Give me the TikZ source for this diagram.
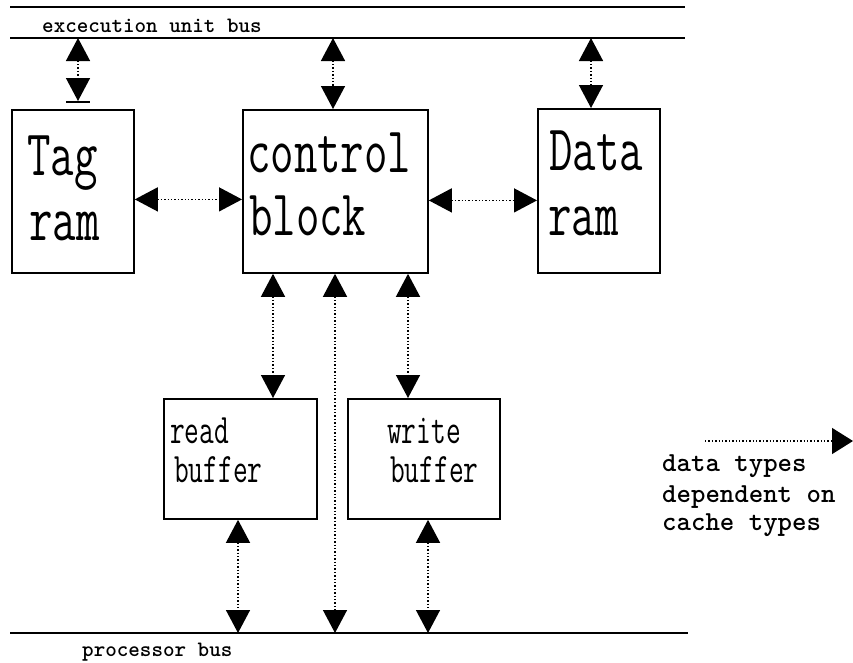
\documentclass[tikz,border=0pt]{standalone}
\usepackage{fontspec}
\usetikzlibrary{arrows.meta}
% condensed typewriter lettering for the unit boxes
\newcommand\narrow[2]{\scalebox{#1}[1]{#2}}
\begin{document}
\begin{tikzpicture}[x=1pt,y=-1pt,
  unit/.style={draw, line width=1.8pt, inner sep=0pt, anchor=north west},
  bigtext/.style={inner sep=0pt, anchor=base west, font=\ttfamily\fontsize{65}{64}\selectfont},
  smalltext/.style={inner sep=0pt, anchor=base west, font=\ttfamily\fontsize{42}{39}\selectfont},
  legtext/.style={inner sep=0pt, anchor=base west, font=\ttfamily\bfseries\fontsize{27.5}{30}\selectfont},
  bustext/.style={inner sep=0pt, anchor=base west, font=\ttfamily\bfseries\fontsize{22}{22}\selectfont},
  busline/.style={line width=1.8pt},
  link/.style={line width=1.4pt, dash pattern=on 1.4pt off 2pt,
    {Triangle[length=23pt,width=24pt]}-{Triangle[length=23pt,width=24pt]}},
  onelink/.style={line width=1.4pt, dash pattern=on 1.4pt off 2pt,
    -{Triangle[length=21pt,width=26pt]}}
]
\useasboundingbox (0,0) rectangle (853,662);

% buses
\coordinate (euA) at (10,7);   \coordinate (euB) at (685,7);
\coordinate (euC) at (10,38);  \coordinate (euD) at (685,38);
\coordinate (pbA) at (10,633); \coordinate (pbB) at (688,633);
\draw[busline] (euA) -- (euB);
\draw[busline] (euC) -- (euD);
\draw[busline] (pbA) -- (pbB);
\node[bustext] (eulbl) at (42,32) {excecution unit bus};
\node[bustext] (pblbl) at (82,656) {processor bus};

% functional units
\node[unit, minimum width=122pt, minimum height=163pt] (tag) at (11,109) {};
\node[unit, minimum width=185pt, minimum height=163pt] (ctrl) at (242,109) {};
\node[unit, minimum width=122pt, minimum height=164pt] (data) at (537,108) {};
\node[unit, minimum width=153pt, minimum height=120pt] (read) at (163,398) {};
\node[unit, minimum width=152pt, minimum height=120pt] (write) at (347,398) {};

\node[bigtext] (tagA) at (27,175) {\narrow{0.7}{Tag}};
\node[bigtext] (tagB) at (29,240) {\narrow{0.7}{ram}};
\node[bigtext] (ctrlA) at (247,172) {\narrow{0.7}{control}};
\node[bigtext] (ctrlB) at (249,235) {\narrow{0.7}{block}};
\node[bigtext] (dataA) at (549,170) {\narrow{0.7}{Data}};
\node[bigtext] (dataB) at (548,235) {\narrow{0.7}{ram}};
\node[smalltext] (readA) at (170,443) {\narrow{0.68}{read}};
\node[smalltext] (readB) at (174,482) {\narrow{0.68}{buffer}};
\node[smalltext] (writeA) at (387,443) {\narrow{0.68}{write}};
\node[smalltext] (writeB) at (390,482) {\narrow{0.68}{buffer}};

% connection points
\coordinate (tagtop) at (78,38);
\coordinate (tagend) at (78,101);
\coordinate (bar1) at (66,102); \coordinate (bar2) at (90,102);
\coordinate (ctop) at (333,38);
\coordinate (dtop) at (591,38);
\coordinate (rdin) at (273,398);
\coordinate (thru) at (335,633);
\coordinate (wrin) at (408,398);
\coordinate (rdout) at (238,633);
\coordinate (wrout) at (428,633);

\draw[link] (tagtop) -- (tagend);
\draw[line width=1.8pt] (bar1) -- (bar2);
\draw[link] (ctop) -- (ctop |- ctrl.north);
\draw[link] (dtop) -- (dtop |- data.north);
\draw[link] ([yshift=-8pt]tag.east) -- ([yshift=-8pt]tag.east -| ctrl.west);
\draw[link] ([yshift=-9pt]ctrl.east) -- ([yshift=-9pt]ctrl.east -| data.west);
\draw[link] (rdin |- ctrl.south) -- (rdin);
\draw[link] (thru |- ctrl.south) -- (thru);
\draw[link] (wrin |- ctrl.south) -- (wrin);
\draw[link] (rdout |- read.south) -- (rdout);
\draw[link] (wrout |- write.south) -- (wrout);

% legend
\coordinate (legA) at (705,441);
\coordinate (legB) at (853,441);
\draw[onelink] (legA) -- (legB);
\node[legtext] (legL1) at (662,471) {data types};
\node[legtext] (legL2) at (662,502) {dependent on};
\node[legtext] (legL3) at (662,530) {cache types};
\end{tikzpicture}
\end{document}
